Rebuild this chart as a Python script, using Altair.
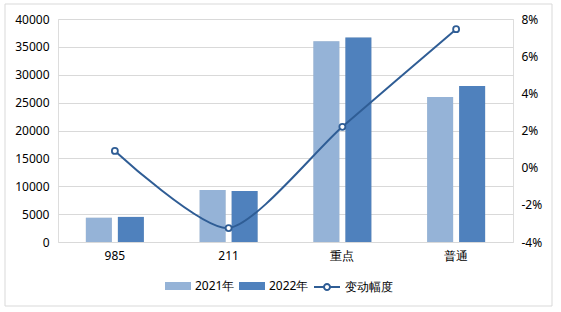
import altair as alt
import pandas as pd

categories = ["985", "211", "重点", "普通"]
years = ["2021年", "2022年"]
values_2021 = [4350, 9330, 36000, 26000]
values_2022 = [4500, 9150, 36700, 28000]
change_pct = [0.9, -3.25, 2.2, 7.45]
line_name = "变动幅度"

bars = pd.DataFrame(
    [{"cat": c, "year": years[0], "v": v} for c, v in zip(categories, values_2021)]
    + [{"cat": c, "year": years[1], "v": v} for c, v in zip(categories, values_2022)]
)
line_df = pd.DataFrame({"cat": categories, "pct": change_pct, "series": line_name})

FONT = "Noto Sans"
C21, C22, CL = "#95B3D7", "#4F81BD", "#2F5D95"

x_scale = alt.Scale(paddingInner=0.49, paddingOuter=0.245)
xoff_scale = alt.Scale(paddingInner=0.1875, paddingOuter=0)
y_scale = alt.Scale(domain=[0, 40000], nice=False)

x_axis = alt.Axis(title=None, labelAngle=0, ticks=False, domain=False,
                  labelPadding=8, labelFontSize=12, labelColor="#000000", labelFont=FONT)
y_axis = alt.Axis(title=None, values=list(range(0, 40001, 5000)), format="d", ticks=False,
                  domain=False, gridColor="#D9D9D9", labelPadding=9, labelFontSize=12,
                  labelFont=FONT, labelColor="#000000")

bar_legend = alt.Legend(
    title=None, orient="none", legendX=107, legendY=254, direction="horizontal",
    symbolSize=676, labelFontSize=12, labelFont=FONT, labelColor="#000000",
    labelOffset=4, columnPadding=4, symbolType="M-1,-0.31H1V0.31H-1Z",
    symbolStrokeWidth=0, symbolOpacity=1,
)

line_legend = alt.Legend(
    title=None, orient="none", legendX=255, legendY=254, direction="horizontal",
    symbolSize=676, labelFontSize=12, labelFont=FONT, labelColor="#000000",
    labelOffset=4,
    symbolType="M-1,0H-0.25M0.25,0H1M0.23,0A0.23,0.23 0 1,1 -0.23,0A0.23,0.23 0 1,1 0.23,0Z",
    symbolFillColor="#ffffff", symbolStrokeWidth=2, symbolOpacity=1,
)

frame = alt.Chart(pd.DataFrame({"f": [0]})).mark_rect(
    fill=None, stroke="#D9D9D9", strokeWidth=1
).encode(
    x=alt.value(-53), x2=alt.value(494), y=alt.value(-15), y2=alt.value(287)
)

shadow_layer = alt.Chart(bars).mark_bar(
    color="#7F7F7F", opacity=0.28, xOffset=2.5
).encode(
    x=alt.X("cat:N", sort=categories, scale=x_scale, axis=x_axis),
    xOffset=alt.XOffset("year:N", sort=years, scale=xoff_scale),
    y=alt.Y("v:Q", scale=y_scale, axis=y_axis),
)

bar_layer = alt.Chart(bars).mark_bar().encode(
    x=alt.X("cat:N", sort=categories, scale=x_scale, axis=x_axis),
    xOffset=alt.XOffset("year:N", sort=years, scale=xoff_scale),
    y=alt.Y("v:Q", scale=y_scale, axis=y_axis),
    color=alt.Color("year:N", scale=alt.Scale(domain=years, range=[C21, C22]), legend=bar_legend),
)

line_layer = alt.Chart(line_df).mark_line(
    interpolate="cardinal", tension=0.3, strokeWidth=2,
    point=alt.OverlayMarkDef(filled=True, fill="white", strokeWidth=1.8, size=36),
).encode(
    x=alt.X("cat:N", sort=categories, scale=x_scale, axis=x_axis),
    y=alt.Y(
        "pct:Q",
        scale=alt.Scale(domain=[-4, 8], nice=False),
        axis=alt.Axis(title=None, orient="right", values=list(range(-4, 9, 2)), grid=False,
                      ticks=False, domain=False, labelPadding=8, labelFontSize=12, labelFont=FONT,
                      labelColor="#000000", labelExpr="datum.value + '%'"),
    ),
    stroke=alt.Stroke("series:N", scale=alt.Scale(domain=[line_name], range=[CL]), legend=line_legend),
)

bars_all = alt.layer(shadow_layer, bar_layer)

chart = (
    alt.layer(frame, bars_all, line_layer)
    .resolve_scale(y="independent")
    .properties(width=455, height=223, padding={"left": 58, "top": 19, "right": 48, "bottom": 70})
    .configure_view(stroke=None)
    .configure(background="white", autosize=alt.AutoSizeParams(type="none"))
)

chart.save("out.html", embed_options={"renderer": "svg", "actions": False})
